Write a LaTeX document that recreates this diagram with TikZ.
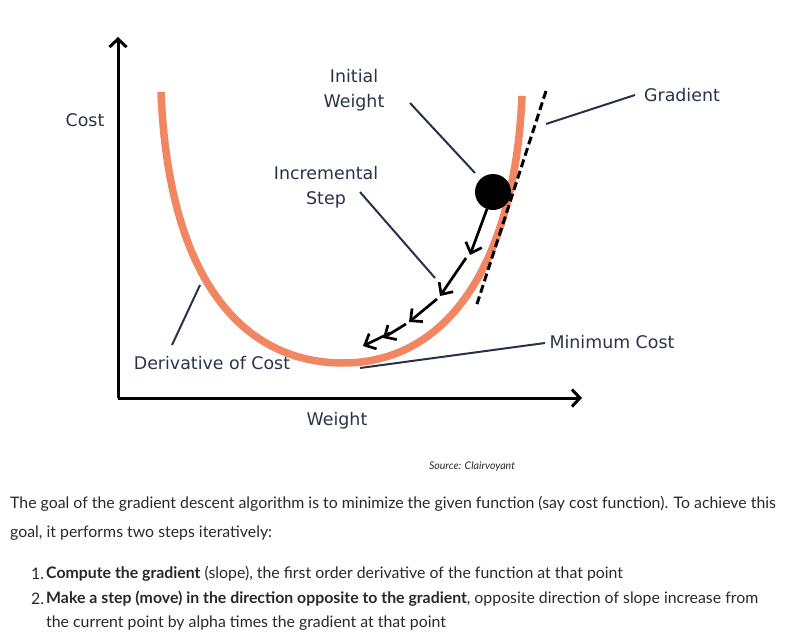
\documentclass[tikz,border=0pt]{standalone}
\usepackage{fontspec}
\usepackage{tikz}
\usetikzlibrary{arrows.meta,positioning,calc}
\setmainfont{Lato}
\newfontfamily\labelfont{DejaVu Sans}
\definecolor{salmon}{RGB}{240, 134, 98}
\definecolor{labelnavy}{RGB}{40, 52, 76}
\definecolor{pointernavy}{RGB}{38, 50, 72}
\definecolor{bodygray}{RGB}{40, 40, 40}

\begin{document}
\begin{tikzpicture}[x=1pt, y=-1pt,
    lbl/.style={text=labelnavy, inner sep=0pt, align=center, font=\labelfont\fontsize{17.4}{25}\selectfont},
    pointer/.style={draw=pointernavy, line width=2pt},
    stepline/.style={-{Straight Barb[length=9pt,width=17pt,line width=2.7pt]}, line width=2.7pt, black},
    body/.style={text=bodygray, inner sep=0pt, anchor=west, font=\fontsize{15.85}{18}\selectfont}]
    \useasboundingbox (0,0) rectangle (805,637);

    % axes
    \coordinate (origin) at (118,398);
    \coordinate (ytop) at (118,37);
    \coordinate (xend) at (582,398);
    \draw[line width=3pt, -{Straight Barb[length=8pt,width=17pt,line width=3pt]}] (origin) -- (ytop);
    \draw[line width=3pt, -{Straight Barb[length=8pt,width=17pt,line width=3pt]}] (origin) -- (xend);

    % cost curve
    \draw[salmon, line width=7.5pt] (161,92) .. controls (169,290) and (250,363) .. (343,363)
        .. controls (450,363) and (515,260) .. (522,96);

    % tangent
    \coordinate (tan-a) at (546,91);
    \coordinate (tan-b) at (476,307);
    \draw[line width=3pt, dash pattern=on 8pt off 4pt] (tan-a) -- (tan-b);

    % ball and steps
    \node[circle, fill=black, minimum size=36pt, inner sep=0pt] (ball) at (493,192) {};
    \coordinate (s0) at (487,209);
    \coordinate (s1) at (470,255);
    \coordinate (s1b) at (466,258);
    \coordinate (s2) at (440,296);
    \coordinate (s2b) at (437,299);
    \coordinate (s3) at (409,322);
    \coordinate (s3b) at (406,324);
    \coordinate (s4) at (383,338);
    \coordinate (s4b) at (390,333);
    \coordinate (s5) at (363,346);
    \draw[stepline] (s0) -- (s1);
    \draw[stepline] (s1b) -- (s2);
    \draw[stepline] (s2b) -- (s3);
    \draw[stepline] (s3b) -- (s4);
    \draw[stepline] (s4b) -- (s5);

    % labels
    \node[lbl] (cost) at (85,120) {Cost};
    \node[lbl] (initw) at (354,90) {Initial\\Weight};
    \node[lbl] (incstep) at (326,187) {Incremental\\Step};
    \node[lbl] (gradlbl) at (682,95) {Gradient};
    \node[lbl] (mincost) at (612,342) {Minimum Cost};
    \node[lbl] (deriv) at (212,363) {Derivative of Cost};
    \node[lbl] (weightlbl) at (337,421) {Weight};

    % pointer lines
    \coordinate (iw-a) at (410,103);
    \coordinate (iw-b) at (475,173);
    \coordinate (is-a) at (360,192);
    \coordinate (is-b) at (435,278);
    \coordinate (dc-a) at (200,285);
    \coordinate (dc-b) at (172,345);
    \coordinate (mc-a) at (360,368);
    \coordinate (mc-b) at (545,343);
    \coordinate (gr-a) at (546,124);
    \coordinate (gr-b) at (635,95);
    \draw[pointer] (iw-a) -- (iw-b);
    \draw[pointer] (is-a) -- (is-b);
    \draw[pointer] (dc-a) -- (dc-b);
    \draw[pointer] (mc-a) -- (mc-b);
    \draw[pointer] (gr-a) -- (gr-b);

    % source and text
    \node[inner sep=0pt, text=bodygray, font=\itshape\fontsize{10.6}{12}\selectfont] (source) at (472,466) {Source: Clairvoyant};
    \node[body] (par1) at (10,504) {The goal of the gradient descent algorithm is to minimize the given function (say cost function). To achieve this};
    \node[body] (par2) at (10,533) {goal, it performs two steps iteratively:};
    \node[body] (num1) at (31,574) {1.};
    \node[body] (item1) at (46,574) {\textbf{Compute the gradient} (slope), the first order derivative of the function at that point};
    \node[body] (num2) at (31,599) {2.};
    \node[body] (item2) at (46,599) {\textbf{Make a step (move) in the direction opposite to the gradient}, opposite direction of slope increase from};
    \node[body] (item2b) at (46,623) {the current point by alpha times the gradient at that point};
\end{tikzpicture}
\end{document}
